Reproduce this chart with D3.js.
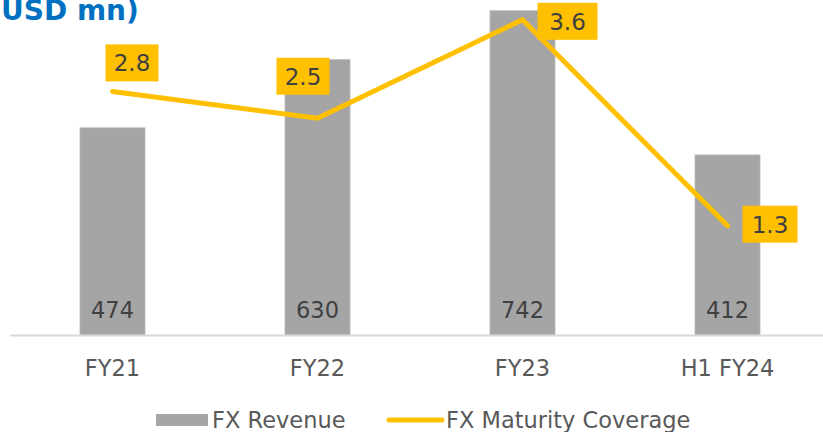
<!DOCTYPE html>
<html>
<head>
<meta charset="utf-8">
<script src="https://cdn.jsdelivr.net/npm/d3@7"></script>
<style>
  html, body { margin: 0; padding: 0; background: #fff; }
  svg { display: block; }
  text { font-family: "DejaVu Sans", Verdana, sans-serif; }
</style>
</head>
<body>
<svg id="chart" width="823" height="432"></svg>
<script>
// ---- data ----
const categories = ["FY21", "FY22", "FY23", "H1 FY24"];
const fxRevenue = [474, 630, 742, 412];
const fxMaturityCoverage = [2.8, 2.5, 3.6, 1.3];
const coverageLabels = ["2.8", "2.5", "3.6", "1.3"];
const seriesNames = ["FX Revenue", "FX Maturity Coverage"];
const titleText = "USD mn)";

// ---- layout ----
const W = 823, H = 432;
const baseY = 335;
const labelOffsets = [[19.5, -28.5], [-14.5, -42], [45, 1.5], [42.5, -1.5]];
const boxW = [53, 53, 60, 55];

const svg = d3.select("#chart");

const x = d3.scaleBand().domain(categories).range([10, 830])
  .paddingInner(0.683).paddingOuter(0.3415);
const yBar = d3.scaleLinear().domain([0, 800]).range([baseY, -14.6]);
const yLine = d3.scaleLinear().domain([0, 4]).range([342, -16]);

// title (cut off at top, as in the source)
svg.append("text").attr("x", 1).attr("y", 20)
  .attr("font-size", 28).attr("font-weight", "bold").attr("fill", "#0070C0")
  .text(titleText);

// bars
svg.append("g").selectAll("rect").data(fxRevenue).join("rect")
  .attr("x", (d, i) => x(categories[i]))
  .attr("y", d => yBar(d))
  .attr("width", x.bandwidth())
  .attr("height", d => baseY - yBar(d))
  .attr("fill", "#A5A5A5")
  .attr("stroke", "#B8B8B8").attr("stroke-width", 0.8);

// axis line
const xAxis = d3.axisBottom(x).tickSize(0).tickPadding(20);
const gx = svg.append("g").attr("transform", `translate(0,${baseY})`).call(xAxis);
gx.select(".domain").attr("stroke", "#D9D9D9").attr("stroke-width", 2)
  .attr("d", `M10,0.5H823`);
gx.selectAll(".tick text").attr("font-size", 22.5).attr("fill", "#595959")
  .attr("font-family", "DejaVu Sans, sans-serif").attr("dy", 0).attr("y", 40.5);

// bar value labels
svg.append("g").selectAll("text").data(fxRevenue).join("text")
  .attr("x", (d, i) => x(categories[i]) + x.bandwidth() / 2)
  .attr("y", 317.5)
  .attr("text-anchor", "middle")
  .attr("font-size", 22.5).attr("fill", "#404040")
  .text(d => d);

// line
const line = d3.line()
  .x((d, i) => x(categories[i]) + x.bandwidth() / 2)
  .y(d => yLine(d));
svg.append("path").datum(fxMaturityCoverage)
  .attr("d", line).attr("fill", "none")
  .attr("stroke", "#FFC000").attr("stroke-width", 5)
  .attr("stroke-linecap", "round").attr("stroke-linejoin", "miter");

// line labels
const lg = svg.append("g").selectAll("g").data(fxMaturityCoverage).join("g")
  .attr("transform", (d, i) => {
    const px = x(categories[i]) + x.bandwidth() / 2 + labelOffsets[i][0];
    const py = yLine(d) + labelOffsets[i][1];
    return `translate(${px},${py})`;
  });
lg.append("rect")
  .attr("x", (d, i) => -boxW[i] / 2).attr("y", -18.5)
  .attr("width", (d, i) => boxW[i]).attr("height", 37)
  .attr("fill", "#FFC000");
lg.append("text")
  .attr("text-anchor", "middle").attr("y", 8.5)
  .attr("font-size", 23).attr("fill", "#404040")
  .text((d, i) => coverageLabels[i]);

// legend
const leg = svg.append("g");
leg.append("rect").attr("x", 156).attr("y", 414).attr("width", 52).attr("height", 12)
  .attr("fill", "#A5A5A5");
leg.append("text").attr("x", 212).attr("y", 427.5).attr("font-size", 22.5)
  .attr("fill", "#595959").text(seriesNames[0]);
leg.append("line").attr("x1", 389).attr("x2", 442).attr("y1", 420).attr("y2", 420)
  .attr("stroke", "#FFC000").attr("stroke-width", 5).attr("stroke-linecap", "round");
leg.append("text").attr("x", 446).attr("y", 427.5).attr("font-size", 22.5)
  .attr("fill", "#595959").text(seriesNames[1]);
</script>
</body>
</html>
